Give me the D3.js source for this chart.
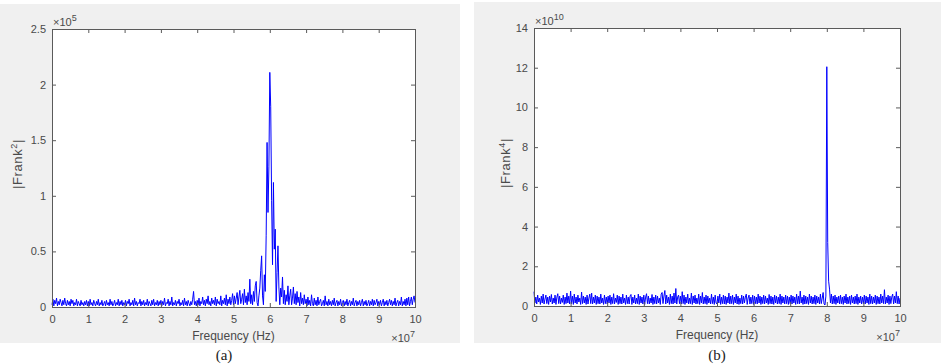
<!DOCTYPE html>
<html>
<head>
<meta charset="utf-8">
<script src="https://cdnjs.cloudflare.com/ajax/libs/d3/7.8.5/d3.min.js"></script>
<style>
    body { margin: 0; background: #ffffff; }
    svg { display: block; }
</style>
</head>
<body>
<div id="chart"></div>
<script>
// Frequency axis: samples every 0.025 (x 10^7 Hz) from 0 to 10
const freqStep = 0.025;
const xTicks = [0, 1, 2, 3, 4, 5, 6, 7, 8, 9, 10];

// (a) |Frank^2| in units of 10^5, four rows per 10^7 Hz
const magA = [
    0.02,0.07,0.01,0.06,0.03,0.08,0.01,0.05,0.02,0.07,
    0.04,0.01,0.06,0.02,0.08,0.03,0.01,0.06,0.02,0.05,
    0.01,0.07,0.03,0.06,0.01,0.04,0.02,0.07,0.01,0.05,
    0.03,0.01,0.06,0.02,0.04,0.01,0.05,0.02,0.06,0.01,
    // 1
    0.05,0.01,0.07,0.02,0.04,0.01,0.06,0.03,0.01,0.05,
    0.02,0.07,0.01,0.04,0.02,0.06,0.01,0.03,0.05,0.01,
    0.06,0.02,0.04,0.01,0.07,0.02,0.05,0.01,0.03,0.06,
    0.01,0.04,0.02,0.07,0.01,0.05,0.02,0.06,0.01,0.04,
    // 2
    0.02,0.06,0.01,0.05,0.03,0.07,0.01,0.04,0.02,0.06,
    0.01,0.08,0.02,0.05,0.01,0.04,0.03,0.07,0.01,0.05,
    0.02,0.06,0.01,0.04,0.02,0.07,0.01,0.05,0.03,0.01,
    0.06,0.02,0.07,0.01,0.04,0.02,0.06,0.01,0.05,0.02,
    // 3
    0.06,0.01,0.05,0.02,0.08,0.01,0.04,0.03,0.07,0.01,
    0.05,0.02,0.09,0.01,0.04,0.02,0.06,0.01,0.05,0.03,
    0.07,0.01,0.04,0.02,0.06,0.01,0.08,0.02,0.05,0.01,
    0.06,0.03,0.01,0.05,0.02,0.07,0.14,0.02,0.05,0.01,
    // 4
    0.06,0.02,0.08,0.01,0.05,0.03,0.09,0.02,0.06,0.01,
    0.07,0.03,0.10,0.02,0.05,0.01,0.08,0.03,0.06,0.02,
    0.09,0.01,0.07,0.03,0.05,0.02,0.10,0.01,0.06,0.03,
    0.08,0.02,0.11,0.01,0.07,0.03,0.09,0.02,0.06,0.12,
    // 5
    0.02,0.10,0.03,0.08,0.13,0.02,0.09,0.15,0.03,0.07,
    0.12,0.02,0.16,0.04,0.10,0.02,0.13,0.05,0.25,0.03,
    0.11,0.02,0.14,0.05,0.19,0.23,0.04,0.01,0.10,0.17,
    0.33,0.46,0.10,0.02,0.29,0.14,0.64,1.48,0.85,1.26,
    // 6
    2.11,1.80,0.96,0.38,1.12,0.52,0.70,0.05,0.31,0.55,
    0.18,0.02,0.17,0.09,0.27,0.03,0.15,0.02,0.11,0.05,
    0.19,0.02,0.10,0.16,0.02,0.08,0.18,0.03,0.12,0.02,
    0.14,0.04,0.09,0.01,0.13,0.03,0.08,0.02,0.11,0.03,
    // 7
    0.07,0.01,0.09,0.02,0.06,0.01,0.11,0.03,0.01,0.08,
    0.02,0.06,0.01,0.09,0.02,0.05,0.07,0.01,0.03,0.06,
    0.01,0.10,0.02,0.05,0.01,0.07,0.02,0.05,0.01,0.06,
    0.02,0.08,0.01,0.04,0.06,0.01,0.05,0.02,0.07,0.01,
    // 8
    0.04,0.06,0.01,0.05,0.02,0.07,0.01,0.04,0.06,0.01,
    0.05,0.02,0.08,0.01,0.04,0.06,0.01,0.05,0.02,0.06,
    0.01,0.04,0.07,0.01,0.05,0.02,0.06,0.01,0.03,0.06,
    0.01,0.05,0.02,0.07,0.01,0.06,0.02,0.04,0.07,0.01,
    // 9
    0.05,0.02,0.06,0.01,0.04,0.07,0.01,0.05,0.02,0.06,
    0.01,0.04,0.07,0.02,0.06,0.01,0.05,0.02,0.08,0.01,
    0.04,0.06,0.01,0.05,0.02,0.09,0.01,0.05,0.02,0.07,
    0.01,0.08,0.02,0.09,0.01,0.05,0.09,0.02,0.07,0.10,
    0.04
];
const yTicksA = [0, 0.5, 1, 1.5, 2, 2.5];

// (b) |Frank^4| in units of 10^10
const magB = [
    0.72,0.15,0.45,0.10,0.55,0.20,0.40,0.08,0.50,0.15,
    0.60,0.10,0.35,0.55,0.12,0.45,0.08,0.50,0.20,0.58,
    0.10,0.40,0.15,0.55,0.08,0.45,0.62,0.12,0.50,0.10,
    0.40,0.18,0.55,0.08,0.45,0.12,0.65,0.15,0.50,0.10,
    // 1
    0.75,0.12,0.50,0.08,0.60,0.15,0.45,0.10,0.55,0.20,
    0.40,0.08,0.70,0.12,0.50,0.15,0.45,0.08,0.55,0.10,
    0.40,0.60,0.12,0.65,0.10,0.45,0.15,0.55,0.08,0.50,
    0.12,0.45,0.10,0.60,0.15,0.40,0.08,0.55,0.12,0.45,
    // 2
    0.10,0.50,0.15,0.55,0.08,0.45,0.12,0.62,0.10,0.40,
    0.18,0.55,0.08,0.50,0.12,0.45,0.10,0.60,0.15,0.40,
    0.08,0.55,0.12,0.45,0.10,0.50,0.58,0.08,0.45,0.15,
    0.55,0.10,0.40,0.12,0.60,0.08,0.50,0.15,0.45,0.10,
    // 3
    0.55,0.08,0.45,0.62,0.12,0.50,0.10,0.40,0.15,0.58,
    0.08,0.45,0.12,0.55,0.10,0.50,0.15,0.40,0.08,0.60,
    0.68,0.12,0.50,0.78,0.10,0.55,0.15,0.45,0.08,0.60,
    0.12,0.50,0.10,0.65,0.15,0.88,0.10,0.45,0.55,0.12,
    // 4
    0.50,0.10,0.72,0.12,0.55,0.08,0.45,0.15,0.60,0.10,
    0.40,0.12,0.65,0.08,0.50,0.15,0.55,0.10,0.40,0.12,
    0.60,0.08,0.50,0.15,0.68,0.10,0.45,0.12,0.55,0.08,
    0.50,0.15,0.40,0.10,0.60,0.12,0.45,0.08,0.55,0.15,
    // 5
    0.10,0.50,0.15,0.60,0.08,0.45,0.12,0.55,0.10,0.50,
    0.08,0.45,0.15,0.65,0.10,0.50,0.12,0.55,0.08,0.45,
    0.15,0.60,0.10,0.50,0.08,0.40,0.12,0.55,0.10,0.50,
    0.15,0.45,0.60,0.08,0.40,0.55,0.10,0.45,0.12,0.55,
    // 6
    0.08,0.50,0.12,0.45,0.10,0.60,0.15,0.50,0.08,0.45,
    0.12,0.55,0.10,0.50,0.15,0.40,0.08,0.58,0.12,0.50,
    0.10,0.45,0.08,0.55,0.15,0.50,0.10,0.45,0.12,0.60,
    0.08,0.50,0.15,0.45,0.10,0.55,0.12,0.50,0.08,0.45,
    // 7
    0.12,0.55,0.10,0.50,0.15,0.45,0.08,0.60,0.12,0.50,
    0.10,0.75,0.15,0.45,0.08,0.55,0.10,0.50,0.12,0.45,
    0.08,0.60,0.15,0.50,0.10,0.45,0.12,0.55,0.08,0.50,
    0.15,0.45,0.10,0.60,0.12,0.40,0.68,0.10,0.05,0.50,
    // 8
    12.05,3.20,1.25,0.85,0.15,0.60,0.10,0.50,0.12,0.55,
    0.08,0.45,0.15,0.50,0.10,0.55,0.12,0.45,0.08,0.50,
    0.15,0.60,0.10,0.45,0.12,0.50,0.08,0.55,0.15,0.45,
    0.10,0.50,0.12,0.60,0.08,0.45,0.15,0.50,0.10,0.45,
    // 9
    0.12,0.55,0.10,0.50,0.15,0.45,0.08,0.60,0.12,0.50,
    0.10,0.45,0.15,0.55,0.08,0.50,0.12,0.45,0.10,0.60,
    0.15,0.50,0.12,0.82,0.10,0.45,0.15,0.55,0.08,0.50,
    0.12,0.45,0.60,0.10,0.50,0.15,0.72,0.12,0.50,0.10,
    0.40
];
const yTicksB = [0, 2, 4, 6, 8, 10, 12, 14];

// SVG dimensions
const w = 945;
const h = 364;
const tickLen = 4;
const axisColor = "#5a5a5a";
const textColor = "#4a4a4a";
const font = "'Liberation Sans', Arial, sans-serif";

const svg = d3.select("#chart")
    .append("svg")
    .attr("width", w)
    .attr("height", h);

// Draw one MATLAB style panel
function drawPanel(p) {

    // gray figure background
    svg.append("rect")
        .attr("x", p.bg[0])
        .attr("y", p.bg[1])
        .attr("width", p.bg[2])
        .attr("height", p.bg[3])
        .attr("fill", "#f0f0f0");

    const xScale = d3.scaleLinear()
        .domain([0, 10])
        .range([p.left, p.right]);

    const yScale = d3.scaleLinear()
        .domain([0, p.yMax])
        .range([p.bottom, p.top]);

    // white plot area
    svg.append("rect")
        .attr("x", p.left)
        .attr("y", p.top)
        .attr("width", p.right - p.left)
        .attr("height", p.bottom - p.top)
        .attr("fill", "white");

    // spectrum line
    svg.append("path")
        .datum(p.values)
        .attr("fill", "none")
        .attr("stroke", "#0000ff")
        .attr("stroke-width", 1)
        .attr("d", d3.line()
            .x((d, i) => xScale(i * freqStep))
            .y(d => yScale(d))
        );

    // axes, ticks pointing inside like matlab
    const styleAxis = g => {
        g.select(".domain").remove();
        g.attr("color", axisColor);
        g.selectAll("text")
            .attr("fill", textColor)
            .style("font-family", font)
            .style("font-size", "11px");
    };

    const fmt = d => String(d);

    svg.append("g")
        .attr("transform", "translate(0," + p.bottom + ")")
        .call(d3.axisBottom(xScale).tickValues(xTicks).tickFormat(fmt).tickSizeInner(-tickLen).tickSizeOuter(0).tickPadding(8))
        .call(styleAxis);

    svg.append("g")
        .attr("transform", "translate(0," + p.top + ")")
        .call(d3.axisTop(xScale).tickValues(xTicks).tickSizeInner(-tickLen).tickSizeOuter(0).tickFormat(""))
        .call(styleAxis);

    svg.append("g")
        .attr("transform", "translate(" + p.left + ",0)")
        .call(d3.axisLeft(yScale).tickValues(p.yTicks).tickFormat(fmt).tickSizeInner(-tickLen).tickSizeOuter(0).tickPadding(6))
        .call(styleAxis);

    svg.append("g")
        .attr("transform", "translate(" + p.right + ",0)")
        .call(d3.axisRight(yScale).tickValues(p.yTicks).tickSizeInner(-tickLen).tickSizeOuter(0).tickFormat(""))
        .call(styleAxis);

    // box
    svg.append("rect")
        .attr("x", p.left + 0.5)
        .attr("y", p.top + 0.5)
        .attr("width", p.right - p.left)
        .attr("height", p.bottom - p.top)
        .attr("fill", "none")
        .attr("stroke", axisColor)
        .attr("stroke-width", 1);

    // exponent labels
    const expY = svg.append("text")
        .attr("x", p.left + 1)
        .attr("y", p.top - 3)
        .attr("fill", textColor)
        .style("font-family", font)
        .style("font-size", "11px");
    expY.append("tspan").text("\u00d710");
    expY.append("tspan").attr("dy", -5).style("font-size", "9px").text(p.yExp);

    const expX = svg.append("text")
        .attr("x", p.right)
        .attr("y", p.bottom + 35)
        .attr("text-anchor", "end")
        .attr("fill", textColor)
        .style("font-family", font)
        .style("font-size", "11px");
    expX.append("tspan").text("\u00d710");
    expX.append("tspan").attr("dy", -5).style("font-size", "9px").text("7");

    // axis titles
    svg.append("text")
        .attr("x", (p.left + p.right) / 2)
        .attr("y", p.bottom + 33)
        .attr("text-anchor", "middle")
        .attr("fill", textColor)
        .style("font-family", font)
        .style("font-size", "12px")
        .text("Frequency (Hz)");

    const yLab = svg.append("text")
        .attr("transform", "translate(" + p.yLabelX + "," + ((p.top + p.bottom) / 2 - 4) + ") rotate(-90)")
        .attr("text-anchor", "middle")
        .attr("fill", textColor)
        .style("font-family", font)
        .style("font-size", "13px")
        .style("letter-spacing", "0.6px");
    yLab.append("tspan").text("|Frank");
    yLab.append("tspan").attr("dy", -5).style("font-size", "9px").text(p.power);
    yLab.append("tspan").attr("dy", 5).text("|");

    // caption under the figure
    svg.append("text")
        .attr("x", p.captionX)
        .attr("y", 360)
        .attr("text-anchor", "middle")
        .attr("fill", "#222")
        .style("font-family", "'Liberation Serif', 'Times New Roman', serif")
        .style("font-size", "15px")
        .text(p.caption);
}

drawPanel({
    bg: [0, 4, 460, 339],
    left: 52, right: 415, top: 29, bottom: 307,
    yMax: 2.5, yTicks: yTicksA, yExp: "5",
    values: magA, power: "2", yLabelX: 22,
    caption: "(a)", captionX: 224
});

drawPanel({
    bg: [474, 2, 467, 341],
    left: 534, right: 900, top: 28, bottom: 306,
    yMax: 14, yTicks: yTicksB, yExp: "10",
    values: magB, power: "4", yLabelX: 510,
    caption: "(b)", captionX: 717
});
</script>
</body>
</html>
